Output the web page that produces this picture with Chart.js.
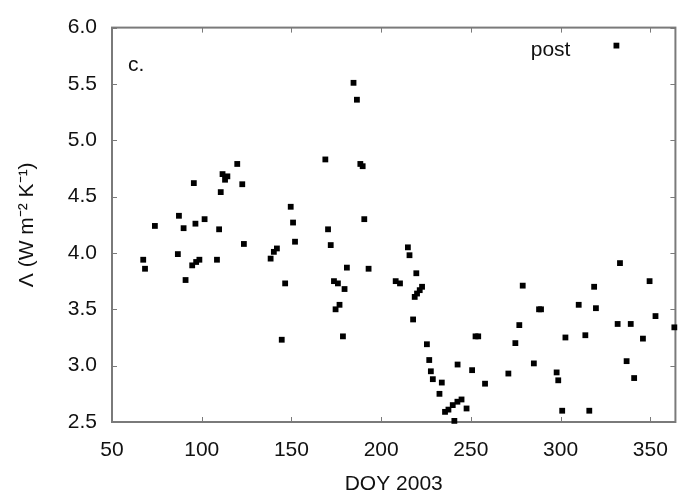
<!DOCTYPE html>
<html>
<head>
<meta charset="utf-8">
<script src="https://cdn.jsdelivr.net/npm/chart.js@4"></script>
<style>
  html, body { margin: 0; padding: 0; background: #fff; }
  #wrap { width: 684px; height: 499px; }
</style>
</head>
<body>
<div id="wrap"><canvas id="lambdaChart" width="684" height="499"></canvas></div>
<script>
// day of year and Lambda
const doy = [
  67.4, 68.4, 73.9, 86.7, 87.3, 89.9, 91.0, 94.7, 95.6, 96.5,
  96.9, 98.7, 101.6, 108.5, 109.7, 110.6, 111.6, 113.0, 114.3, 119.8,
  122.6, 123.5, 138.4, 140.2, 141.9, 144.6, 146.5, 149.6, 150.9, 152.0,
  168.9, 170.4, 171.9, 173.7, 174.6, 175.9, 176.8, 178.7, 179.6, 180.9,
  184.6, 186.5, 188.4, 189.7, 190.6, 193.0, 208.1, 210.5, 214.9, 215.8,
  217.8, 218.7, 219.6, 220.0, 221.5, 222.8, 225.5, 226.8, 227.7, 228.8,
  232.5, 233.8, 235.6, 237.5, 239.9, 240.8, 242.5, 242.6, 244.8, 247.6,
  250.7, 252.6, 254.1, 257.9, 270.9, 274.8, 277.0, 278.9, 285.1, 288.0,
  289.1, 297.8, 298.7, 300.9, 302.7, 310.1, 313.8, 316.0, 318.7, 319.7,
  331.8, 333.1, 336.8, 339.1, 341.0, 345.9, 349.6, 352.9, 363.4
];
const lambda = [
  3.94, 3.86, 4.24, 3.99, 4.33, 4.22, 3.76, 3.89, 4.62, 4.26,
  3.92, 3.94, 4.30, 3.94, 4.21, 4.54, 4.70, 4.65, 4.68, 4.79,
  4.61, 4.08, 3.95, 4.01, 4.04, 3.23, 3.73, 4.41, 4.27, 4.10,
  4.83, 4.21, 4.07, 3.75, 3.50, 3.73, 3.54, 3.26, 3.68, 3.87,
  5.51, 5.36, 4.79, 4.77, 4.30, 3.86, 3.75, 3.73, 4.05, 3.98,
  3.41, 3.61, 3.82, 3.64, 3.67, 3.70, 3.19, 3.05, 2.95, 2.88,
  2.75, 2.85, 2.59, 2.61, 2.65, 2.51, 2.68, 3.01, 2.70, 2.62,
  2.96, 3.26, 3.26, 2.84, 2.93, 3.20, 3.36, 3.71, 3.02, 3.50,
  3.50, 2.94, 2.87, 2.60, 3.25, 3.54, 3.27, 2.60, 3.70, 3.51,
  3.37, 3.91, 3.04, 3.37, 2.89, 3.24, 3.75, 3.44, 3.34
];
const xTicks = [50, 100, 150, 200, 250, 300, 350];
const yTicks = [2.5, 3.0, 3.5, 4.0, 4.5, 5.0, 5.5, 6.0];
const seriesLabel = 'post';
const panelLabel = 'c.';

const FONT = '"Liberation Sans", Arial, Helvetica, sans-serif';
const frameColor = '#7a7a7a';

// box around the plot with small inward ticks on all four sides
const framePlugin = {
    id: 'frame',
    beforeDatasetsDraw(chart) {
        const { ctx, chartArea: a } = chart;
        const xs = chart.scales.x, ys = chart.scales.y;
        const len = 5;
        ctx.save();
        ctx.strokeStyle = frameColor;
        ctx.lineWidth = 1;
        ctx.beginPath();
        xTicks.forEach(v => {
            const px = Math.round(xs.getPixelForValue(v)) + 0.5;
            ctx.moveTo(px, a.bottom); ctx.lineTo(px, a.bottom - len);
            ctx.moveTo(px, a.top); ctx.lineTo(px, a.top + len);
        });
        yTicks.forEach(v => {
            const py = Math.round(ys.getPixelForValue(v)) + 0.5;
            ctx.moveTo(a.left, py); ctx.lineTo(a.left + len, py);
            ctx.moveTo(a.right, py); ctx.lineTo(a.right - len, py);
        });
        ctx.stroke();
        ctx.lineWidth = 2;
        ctx.strokeRect(a.left, a.top, a.right - a.left, a.bottom - a.top);
        ctx.restore();
    },
    afterDraw(chart) {
        const { ctx, chartArea: a } = chart;
        const ds = chart.data.datasets[0];
        ctx.save();
        ctx.fillStyle = '#111';
        ctx.font = '21px ' + FONT;
        ctx.textBaseline = 'alphabetic';
        ctx.textAlign = 'left';
        ctx.fillText(panelLabel, a.left + 16, a.top + 43);
        // key: text first, sample point after it
        ctx.textAlign = 'right';
        ctx.fillText(seriesLabel, a.right - 105, a.top + 28);
        ctx.fillStyle = ds.pointBackgroundColor;
        Chart.helpers.drawPoint(ctx, {
            pointStyle: ds.pointStyle, radius: ds.pointRadius, borderWidth: 0, rotation: 0
        }, a.right - 59, a.top + 18);
        ctx.restore();
    }
};

new Chart(document.getElementById('lambdaChart'), {
    type: 'scatter',
    data: {
        datasets: [{
            label: seriesLabel,
            data: doy.map((d, i) => ({ x: d, y: lambda[i] })),
            pointStyle: 'rect',
            pointRadius: 4.1,
            pointHoverRadius: 4.1,
            pointBorderWidth: 0,
            pointBackgroundColor: '#000',
            pointBorderColor: '#000',
            clip: false
        }]
    },
    options: {
        responsive: false,
        animation: false,
        events: [],
        layout: { padding: { top: 20, right: 3, left: 0, bottom: 0 } },
        plugins: { legend: { display: false }, tooltip: { enabled: false } },
        scales: {
            x: {
                type: 'linear',
                min: 50, max: 364,
                afterBuildTicks: s => { s.ticks = xTicks.map(v => ({ value: v })); },
                afterFit: s => { s.height = 77; },
                grid: { display: false, drawTicks: false },
                border: { display: false },
                ticks: { color: '#111', padding: 16, maxRotation: 0, font: { family: FONT, size: 21 } },
                title: {
                    display: true, text: 'DOY 2003', color: '#111',
                    font: { family: FONT, size: 21 }, padding: { top: 0, bottom: 2 }
                }
            },
            y: {
                type: 'linear',
                min: 2.5, max: 6.0,
                afterBuildTicks: s => { s.ticks = yTicks.map(v => ({ value: v })); },
                afterFit: s => { s.width = 112; },
                grid: { display: false, drawTicks: false },
                border: { display: false },
                ticks: {
                    color: '#111', padding: 15, font: { family: FONT, size: 21 },
                    callback: v => v.toFixed(1)
                },
                title: {
                    display: true, text: 'Λ (W m⁻² K⁻¹)', color: '#111',
                    font: { family: FONT, size: 21 }, padding: { top: 15, bottom: 0 }
                }
            }
        }
    },
    plugins: [framePlugin]
});
</script>
</body>
</html>
